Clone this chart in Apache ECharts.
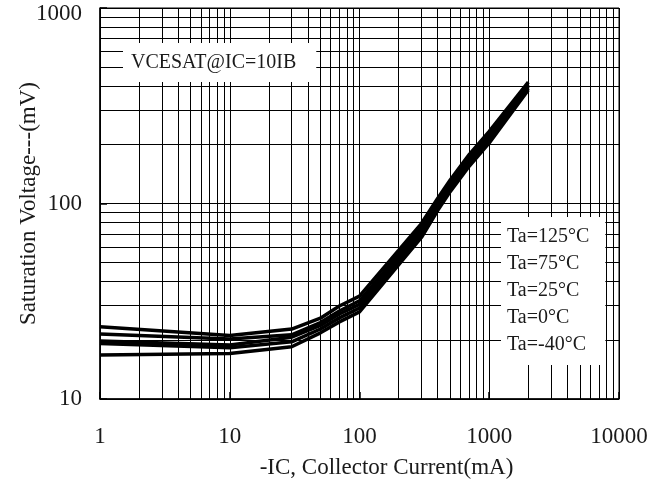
<!DOCTYPE html>
<html>
<head>
<meta charset="utf-8">
<script src="https://cdn.jsdelivr.net/npm/echarts@6/dist/echarts.min.js"></script>
<style>
html,body{margin:0;padding:0;background:#fff;}
#chart{width:661px;height:481px;}
</style>
</head>
<body>
<div id="chart"></div>
<script>
// ---- data ----
const currents = [1, 10, 30, 50, 70, 100, 200, 300, 400, 500, 700, 1000, 2000];
const seriesNames = ['Ta=125°C', 'Ta=75°C', 'Ta=25°C', 'Ta=0°C', 'Ta=-40°C'];
const vsat125 = [23.4, 21.1, 22.8, 25.9, 29.9, 33.6, 57.5, 79, 106, 132, 178, 234, 418];
const vsat75  = [21.5, 20.3, 21.3, 24.6, 28.2, 31.8, 55, 75.5, 102, 127, 171, 225, 405];
const vsat25  = [19.8, 18.9, 20.7, 23.8, 27.2, 30.5, 53, 73, 99, 123, 166, 218, 396];
const vsat0   = [19.2, 18.3, 19.6, 22.8, 26, 29.2, 51, 70, 96, 119, 161, 211, 388];
const vsatM40 = [16.8, 17.1, 18.5, 21.8, 24.8, 27.9, 48.5, 67, 92, 115, 155, 204, 381];
const xMin = 1, xMax = 10000;
const yMin = 10, yMax = 1000;
const annotation = 'VCESAT@IC=10IB';
const xName = '-IC, Collector Current(mA)';
const yName = 'Saturation Voltage---(mV)';

// log grid values (every 1..9 x decade)
function logGrid(lo, hi) {
  const out = [];
  for (let d = lo; d < hi; d *= 10) {
    for (let k = 1; k <= 9; k++) { if (d * k > lo) out.push(d * k); }
  }
  return out;
}
const gridX = logGrid(xMin, xMax);
const gridY = logGrid(yMin, yMax);

const allSeries = [vsat125, vsat75, vsat25, vsat0, vsatM40];
const FONT = 'Liberation Serif';
const TXT = '#1a1a1a';
const plainNum = v => String(Math.round(v));

const chart = echarts.init(document.getElementById('chart'), null, {renderer: 'canvas'});
const series = allSeries.map((vals, i) => ({
  name: seriesNames[i],
  type: 'line',
  data: currents.map((c, j) => [c, vals[j]]),
  showSymbol: false,
  symbol: 'none',
  smooth: false,
  z: 3,
  lineStyle: {color: '#000', width: 3.5},
  itemStyle: {color: '#000'},
  animation: false
}));
series.push({
  type: 'line',
  data: [],
  z: 1,
  silent: true,
  animation: false,
  markLine: {
    silent: true,
    symbol: ['none', 'none'],
    label: {show: false},
    animation: false,
    lineStyle: {type: 'solid', color: '#000', width: 1},
    emphasis: {disabled: true},
    data: gridX.map(v => ({xAxis: v})).concat(gridY.map(v => ({yAxis: v})))
  }
});

chart.setOption({
  animation: false,
  backgroundColor: '#fff',
  textStyle: {fontFamily: FONT, color: TXT},
  grid: {left: 100, right: 42, top: 8, bottom: 82, show: true, borderColor: '#000', borderWidth: 1,
         containLabel: false, outerBoundsMode: 'none'},
  title: {
    text: annotation,
    left: 123, top: 43,
    padding: [9.5, 20, 9.5, 8],
    backgroundColor: '#fff',
    z: 10,
    textStyle: {fontFamily: FONT, fontWeight: 'normal', fontSize: 20, color: TXT, lineHeight: 20}
  },
  legend: {
    data: seriesNames,
    orient: 'vertical',
    left: 501, top: 217,
    padding: [10, 16, 10, 1],
    itemGap: 7,
    itemWidth: 0, itemHeight: 0,
    backgroundColor: '#fff',
    selectedMode: false,
    z: 10,
    icon: 'rect',
    itemStyle: {opacity: 0},
    lineStyle: {opacity: 0},
    textStyle: {fontFamily: FONT, fontSize: 20, color: TXT, lineHeight: 20}
  },
  xAxis: {
    type: 'log', logBase: 10, min: xMin, max: xMax,
    name: xName, nameLocation: 'middle', nameGap: 57, nameMoveOverlap: false,
    nameTextStyle: {fontFamily: FONT, fontSize: 23, color: TXT, padding: [0, 0, 0, 54]},
    axisLine: {show: true, lineStyle: {color: '#000', width: 1.5}},
    axisTick: {show: true, inside: true, length: 7, lineStyle: {color: '#000', width: 1.5}},
    axisLabel: {fontFamily: FONT, fontSize: 23, color: TXT, margin: 26, formatter: plainNum},
    splitLine: {show: true, lineStyle: {color: '#000', width: 1}},
    minorTick: {show: false}, minorSplitLine: {show: false}
  },
  yAxis: {
    type: 'log', logBase: 10, min: yMin, max: yMax,
    name: yName, nameLocation: 'middle', nameGap: 60, nameRotate: 90, nameMoveOverlap: false,
    nameTextStyle: {fontFamily: FONT, fontSize: 23, color: TXT},
    axisLine: {show: true, lineStyle: {color: '#000', width: 1.5}},
    axisTick: {show: true, inside: true, length: 7, lineStyle: {color: '#000', width: 1.5}},
    axisLabel: {fontFamily: FONT, fontSize: 23, color: TXT, margin: 18, formatter: plainNum,
                lineHeight: 12, verticalAlignMaxLabel: 'top'},
    splitLine: {show: true, lineStyle: {color: '#000', width: 1}},
    minorTick: {show: false}, minorSplitLine: {show: false}
  },
  series: series
});
</script>
</body>
</html>
